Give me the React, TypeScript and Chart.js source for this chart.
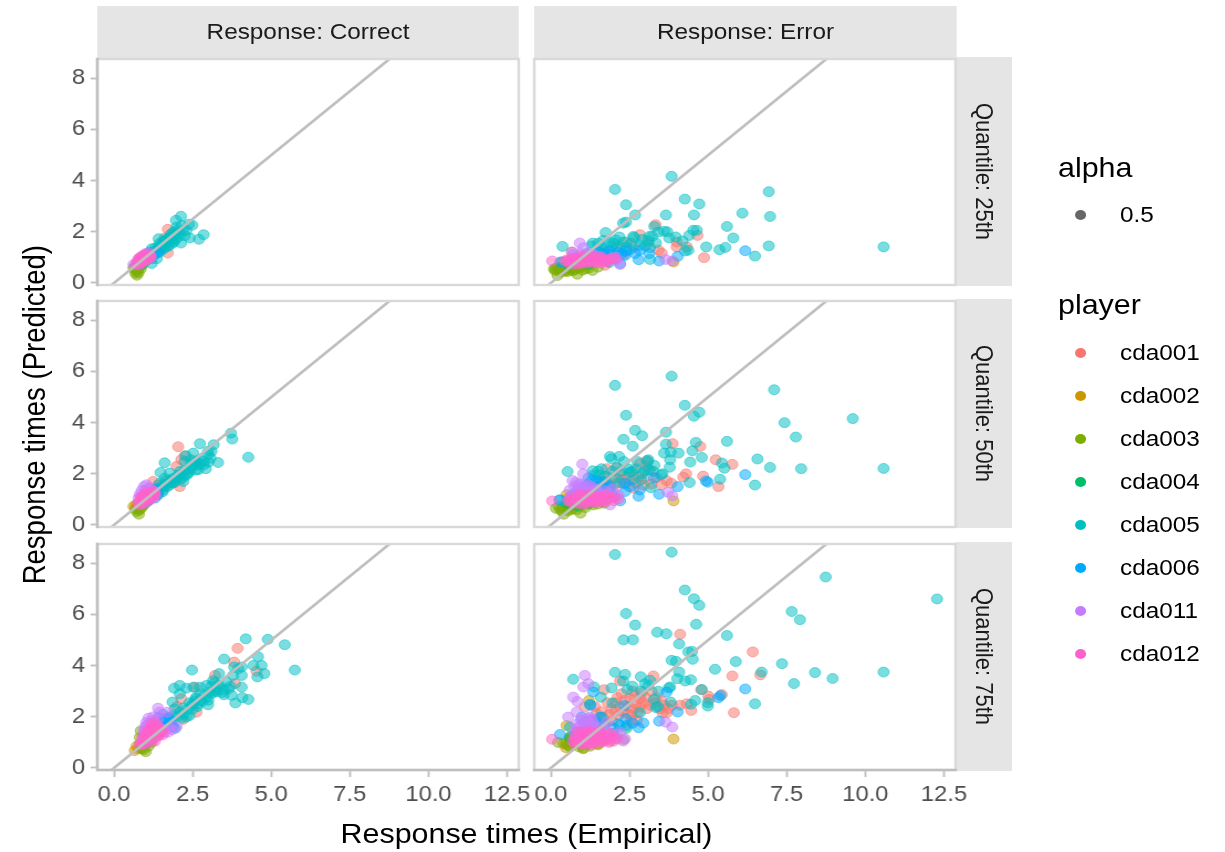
import React, { useEffect, useRef } from "react";
import { Chart, registerables } from "chart.js";

Chart.register(...registerables);

type P = [number, number];

const players = ["cda001", "cda002", "cda003", "cda004", "cda005", "cda006", "cda011", "cda012"];
const playerColors = ["#F8766D", "#CD9600", "#7CAE00", "#00BE67", "#00BFC4", "#00A9FF", "#C77CFF", "#FF61CC"];
const xTickValues = [0, 2.5, 5, 7.5, 10, 12.5];
const yTickValues = [0, 2, 4, 6, 8];
const diagonal: P[] = [[-1, -1], [14, 14]];
const responses = ["Response: Correct", "Response: Error"];
const quantiles = ["Quantile: 25th", "Quantile: 50th", "Quantile: 75th"];

// ---------- Quantile 25, Correct ----------
const c25p1: P[] = [[1.71,2.1],[1.71,1.17],[1.53,1.34],[1.3,1.2],[1.15,1.1],[1.0,.95],[1.45,1.4],[1.6,1.75],[1.85,1.95]];
const c25p2: P[] = [[.65,.62],[.75,.7],[.85,.75],[.7,.55]];
const c25p3: P[] = [[.73,.3],[.7,.47],[.81,.63],[.62,.59],[.78,.4],[.68,.38],[.85,.55],[.75,.5],[.9,.7]];
const c25p4: P[] = [[.8,.72],[.95,.8],[1.05,.9],[.9,.75]];
const c25p5: P[] = [[2.13,2.61],[1.97,2.45],[2.49,2.26],[2.38,2.3],[2.85,1.89],[2.7,1.71],[2.41,1.76],[2.13,1.56],[1.75,1.67],[1.42,1.73],[1.44,1.54],[1.99,2.19],[2.19,2.06],[1.91,1.86],[1.64,1.54],[1.2,1.34],[1.09,1.15],[1.36,.95],[1.2,.76],[2.05,1.8],[1.85,1.7],[1.55,1.45],[1.3,1.25],[1.25,1.1],[1.4,1.3],[1.7,1.6],[2.0,1.95],[2.25,1.85],[1.8,1.9],[1.5,1.3],[1.35,1.15],[1.15,1.05],[1.05,.9],[1.6,1.35],[1.75,1.45],[1.9,1.6],[2.3,2.05],[1.0,.95],[1.1,1.02],[1.2,1.2],[1.3,1.35],[1.45,1.45],[1.55,1.6],[1.65,1.7],[1.8,1.8],[1.9,2.0],[2.0,2.05],[2.1,1.95],[1.95,1.7],[1.85,1.55],[1.7,1.45],[1.45,1.2],[1.2,.95],[1.12,1.2],[2.15,2.25],[1.6,1.65],[1.75,1.75]];
const c25p6: P[] = [[1.0,.9],[1.15,1.0],[1.25,1.1],[1.1,.95],[1.4,1.2]];
const c25p11: P[] = [[.62,.72],[.7,.76],[.78,.9],[.9,1.05],[1.0,1.15],[1.1,1.18],[.85,.85],[1.16,1.08]];
const c25p12: P[] = [[.72,.72],[.78,.78],[.84,.85],[.9,.9],[.96,.95],[1.02,1.0],[1.08,1.05],[1.14,1.08],[1.17,1.02],[.88,.78],[.95,.85],[1.05,.9],[1.0,1.1],[.92,1.02],[1.12,.98],[.8,.7],[.85,.95],[.78,.95],[.85,1.02],[.95,1.08],[1.05,.95],[1.15,1.0],[.9,.82],[1.0,.92],[.75,.85]];

// ---------- Quantile 50, Correct ----------
const c50p1: P[] = [[2.04,3.06],[2.09,1.5],[2.14,2.55],[1.99,2.29],[1.24,1.7],[2.25,2.7],[1.4,1.55],[1.7,1.75],[1.9,1.65],[1.15,1.45]];
const c50p2: P[] = [[.62,.72],[.7,.8],[.78,.85],[.68,.65]];
const c50p3: P[] = [[.79,.42],[.72,.52],[.86,.65],[.7,.62],[.8,.58],[.9,.72],[.95,.8]];
const c50p4: P[] = [[.95,.95],[1.1,1.0],[1.2,1.15],[1.0,.85]];
const c50p5: P[] = [[4.27,2.65],[3.72,3.59],[3.76,3.36],[2.73,3.18],[3.17,3.14],[1.61,2.43],[1.48,2.05],[3.31,2.44],[2.92,2.2],[3.07,2.61],[2.52,2.81],[2.28,2.71],[2.25,2.48],[2.68,2.16],[2.99,2.88],[3.1,2.88],[2.62,2.48],[2.09,2.09],[2.41,2.09],[1.77,2.03],[1.61,1.83],[1.45,1.63],[1.77,1.57],[1.56,1.37],[1.4,1.18],[1.99,1.76],[2.2,1.9],[1.85,1.8],[2.2,1.7],[2.5,2.3],[2.85,2.5],[3.0,2.75],[2.35,2.0],[2.65,2.35],[2.05,1.95],[1.7,1.5],[1.5,1.5],[1.65,1.7],[1.9,1.65],[1.35,1.3],[1.3,1.4],[2.45,2.55],[2.75,2.4],[1.55,1.3],[1.25,1.15],[1.5,1.45],[1.65,1.6],[1.8,1.7],[1.95,1.85],[2.1,1.95],[2.25,2.15],[2.4,2.2],[2.55,2.45],[2.7,2.55],[1.6,1.5],[1.75,1.65],[1.9,1.7],[2.15,1.8],[2.3,1.95],[2.6,2.15],[2.85,2.35],[3.0,2.45],[1.4,1.3],[1.25,1.25],[1.45,1.4],[2.45,2.35]];
const c50p6: P[] = [[1.0,1.1],[1.2,1.3],[1.35,1.4],[1.1,.95],[1.4,1.2],[1.3,1.05]];
const c50p11: P[] = [[1.03,1.57],[.95,1.5],[.88,1.35],[.82,1.2],[1.1,1.45],[.98,1.35],[1.18,1.4],[1.25,1.3],[.78,1.05],[1.3,1.15],[.9,1.1],[1.05,1.2]];
const c50p12: P[] = [[.8,.8],[.85,.85],[.9,.95],[.95,1.0],[1.0,1.05],[1.05,1.1],[1.1,1.15],[1.15,1.2],[1.2,1.25],[1.3,1.2],[1.28,1.1],[1.1,.95],[1.0,.88],[.92,.82],[.88,1.05],[.98,1.2],[1.2,1.05],[.82,.95],[.9,1.05],[.95,1.1],[1.05,1.0],[1.15,1.1],[1.2,1.15],[1.1,1.05],[1.25,1.3],[.85,1.1],[1.0,1.2],[.78,.85],[1.3,1.3],[1.05,1.3]];

// ---------- Quantile 75, Correct ----------
const c75p1: P[] = [[3.93,4.68],[3.82,4.14],[4.53,3.78],[3.21,3.62],[2.14,2.71],[2.57,3.16],[2.62,2.18],[2.2,1.9],[1.7,2.0],[1.45,1.95],[3.85,3.3],[2.0,2.4]];
const c75p2: P[] = [[.66,.68],[.72,.85],[.82,.95],[.76,.75],[.88,.78]];
const c75p3: P[] = [[1.01,.64],[.87,.75],[.95,.72],[.9,.9],[1.1,.85],[1.2,1.0],[.82,1.2],[.85,1.45]];
const c75p4: P[] = [[1.0,.95],[1.3,1.3],[1.15,1.1],[1.5,1.5],[.95,1.25]];
const c75p5: P[] = [[4.19,5.05],[4.89,5.03],[5.43,4.82],[5.75,3.83],[2.48,3.83],[4.58,4.35],[3.5,4.26],[4.43,4.01],[4.69,4.01],[4.06,3.95],[4.78,3.69],[4.56,3.56],[4.06,3.62],[4.06,3.16],[4.27,2.68],[4.08,2.75],[3.86,2.54],[3.74,2.84],[3.49,2.86],[3.26,2.97],[3.34,3.69],[3.15,3.42],[2.94,3.23],[2.73,3.16],[2.52,3.16],[2.09,3.23],[1.91,3.12],[2.3,3.12],[2.09,2.9],[1.86,2.58],[2.99,2.47],[2.68,2.51],[2.46,2.44],[2.3,1.99],[2.09,2.18],[1.93,2.31],[2.62,2.71],[2.89,2.84],[3.05,2.97],[3.58,3.36],[3.79,3.62],[3.95,3.88],[3.82,3.95],[1.67,1.92],[1.45,1.65],[3.2,3.0],[3.65,3.1],[2.75,2.9],[2.4,2.55],[2.2,2.35],[2.5,2.3],[3.1,3.2],[3.3,3.2],[2.55,2.6],[1.75,1.8],[2.2,2.1],[2.35,2.3],[2.5,2.5],[2.65,2.4],[2.8,2.6],[2.95,2.75],[3.1,2.9],[3.25,3.1],[3.35,3.25],[2.0,2.0],[1.85,1.85],[1.7,1.7],[1.9,2.05],[2.6,2.75],[2.4,2.05],[2.15,1.95],[3.0,2.65],[3.5,3.05],[3.7,3.2],[3.45,2.95],[2.75,2.65],[3.2,3.35]];
const c75p6: P[] = [[1.72,1.95],[1.4,1.97],[1.88,1.6],[1.55,2.1],[1.5,1.7],[1.65,1.6],[1.3,1.55],[1.8,1.75],[1.45,1.5],[1.55,1.8],[1.65,1.85],[1.75,1.95],[1.4,1.65],[1.85,1.65],[1.35,1.4],[1.95,1.55]];
const c75p11: P[] = [[1.4,2.34],[1.69,2.18],[1.45,2.18],[1.99,1.63],[1.72,1.4],[1.03,1.79],[.98,1.6],[1.35,1.6],[1.0,1.45],[1.2,1.85],[.95,1.3],[1.55,1.5],[1.3,1.75],[1.15,1.5],[1.85,1.5],[1.1,1.95],[1.1,1.75],[1.2,1.6],[.95,1.45],[1.4,1.9],[1.6,1.4],[1.75,1.55],[1.45,1.35],[1.05,1.65],[1.25,2.0]];
const c75p12: P[] = [[.82,.9],[.88,1.0],[.92,1.1],[1.0,1.15],[1.05,1.22],[1.1,1.3],[1.2,1.42],[1.3,1.5],[1.38,1.65],[1.3,1.78],[1.22,1.62],[1.12,1.55],[1.05,1.4],[1.5,1.4],[1.42,1.25],[1.3,1.2],[1.2,1.05],[1.05,.98],[.95,.92],[1.4,1.45],[1.55,1.3],[.9,1.2],[1.0,1.3],[1.1,1.15],[1.2,1.25],[1.3,1.35],[1.4,1.3],[1.15,1.4],[1.25,1.5],[1.35,1.55],[.9,.95],[1.05,1.1],[1.45,1.55],[1.2,1.75],[1.1,1.45],[1.3,1.05],[1.55,1.45]];

// ---------- Quantile 25, Error ----------
const e25p1: P[] = [[3.33,2.28],[2.83,1.89],[4.87,.99],[4.66,1.86],[4.32,1.41],[4.0,1.41],[4.0,1.6],[3.42,1.28],[3.52,1.17],[.66,1.21],[2.62,1.41],[1.72,.69],[2.09,1.41],[1.67,1.28],[2.4,1.6],[3.1,1.55],[1.1,.95],[1.4,1.15],[2.3,1.1]];
const e25p2: P[] = [[3.9,.82],[.5,.65],[.7,.75],[1.05,.7],[1.4,.85],[.9,.58]];
const e25p3: P[] = [[.21,.29],[.84,.34],[1.32,.49],[.13,.49],[.34,.56],[.61,.56],[.95,.62],[.2,.6],[.45,.45],[.7,.48],[1.1,.55],[.3,.42],[.55,.65],[1.5,.62],[.15,.55],[.4,.58],[.8,.6],[.25,.5],[.35,.48],[.5,.5],[.65,.55],[.75,.52],[1.0,.5],[1.2,.58],[.1,.55],[.28,.6],[.55,.45]];
const e25p4: P[] = [[.35,.82],[.55,.7],[.8,.8],[1.2,.72],[1.55,.95],[1.85,.8]];
const e25p5: P[] = [[.37,1.43],[2.04,3.66],[3.84,4.17],[2.39,3.06],[2.68,2.66],[4.26,3.28],[4.72,3.09],[3.66,2.66],[4.55,2.66],[6.93,3.57],[6.97,2.6],[6.09,2.73],[5.6,2.21],[5.8,1.76],[4.94,1.41],[5.36,1.3],[5.55,1.39],[6.93,1.45],[6.49,1.05],[10.58,1.41],[2.3,2.34],[2.39,2.38],[1.74,1.97],[3.29,2.21],[3.42,1.99],[3.6,2.02],[3.13,1.82],[2.62,1.82],[2.18,1.8],[1.33,1.56],[1.67,1.67],[1.86,1.6],[2.41,1.41],[2.83,1.47],[3.15,1.38],[3.34,1.56],[3.76,1.76],[3.97,1.8],[4.19,1.64],[4.4,1.86],[4.53,2.06],[4.64,2.06],[4.27,1.25],[4.37,1.28],[3.15,.92],[1.88,1.28],[2.2,1.41],[3.7,2.0],[3.22,1.82],[2.65,1.78],[2.05,1.68],[1.3,1.45],[1.6,1.4],[2.5,1.3],[3.0,1.45],[1.45,1.3],[1.7,1.25],[2.0,1.55],[2.3,1.6],[2.55,1.55],[2.9,1.7],[3.1,1.65],[1.5,1.55],[1.95,1.45]];
const e25p6: P[] = [[6.18,1.26],[4.03,1.04],[3.44,.86],[2.79,.91],[2.68,1.15],[2.83,1.28],[3.13,1.15],[2.2,.76],[2.36,1.08],[1.14,1.15],[1.55,1.2],[1.9,1.1],[2.25,1.15],[1.4,1.0],[.3,.82],[1.7,.95],[2.05,.95],[.85,.95],[1.3,1.1],[1.65,1.15],[2.15,1.2],[2.4,1.25],[1.85,1.25]];
const e25p11: P[] = [[.92,1.56],[1.03,1.38],[.69,1.21],[3.65,.92],[3.86,.86],[2.2,.72],[.75,1.0],[.95,1.15],[1.25,1.2],[1.5,1.05],[1.8,.82],[2.1,.9],[1.0,.85],[1.35,.95],[.6,.88],[2.05,1.0],[.85,1.0],[1.1,1.08],[1.3,1.12],[.7,1.1],[1.55,.95],[.8,.85],[1.15,.9]];
const e25p12: P[] = [[.04,.86],[.45,.85],[.58,.78],[.7,.82],[.8,.9],[.9,.95],[1.0,.98],[1.1,.92],[1.2,.85],[1.3,.9],[1.4,.95],[1.5,.88],[1.6,.95],[1.72,.9],[1.85,.92],[2.05,.95],[.85,.75],[1.0,.78],[1.15,1.02],[1.3,1.05],[.65,.95],[1.45,.78],[1.65,.82],[.95,1.05],[.5,.9],[.6,.85],[.75,.95],[.85,.85],[1.05,.9],[1.25,.95],[1.35,.82],[1.55,.8],[1.8,.85],[1.95,.98],[1.15,.78],[.7,.72],[.95,.8],[1.4,1.0],[1.6,1.02]];

// ---------- Quantile 50, Error ----------
const e50p1: P[] = [[3.87,3.18],[4.75,3.07],[5.24,2.55],[5.77,2.37],[4.3,2.0],[4.21,1.87],[4.84,1.91],[5.33,1.5],[3.05,2.52],[2.83,2.4],[3.68,1.73],[3.52,1.57],[3.83,1.63],[2.41,1.89],[2.25,1.76],[2.62,1.44],[1.77,2.2],[2.09,1.63],[1.99,1.31],[1.67,1.7],[2.62,2.09],[2.2,2.0],[1.5,1.5],[2.95,1.8],[3.2,1.6],[1.2,1.2],[2.8,1.9],[1.3,1.5],[1.7,1.9],[1.95,1.85],[2.3,1.6],[2.5,1.75],[2.7,1.65],[2.95,1.55],[3.35,1.85],[3.05,2.3],[3.15,2.15],[2.1,2.25],[1.85,1.55]];
const e50p2: P[] = [[3.9,.94],[.5,1.18],[.55,1.05],[.9,.9],[1.3,.85],[1.7,.9],[.75,.78]];
const e50p3: P[] = [[.41,.42],[.94,.46],[.16,.65],[.39,.65],[.7,.65],[1.35,.78],[.25,.72],[.55,.55],[.82,.6],[1.1,.68],[.35,.55],[1.5,.82],[.6,.72],[.3,.6],[.5,.62],[.65,.6],[.9,.7],[1.15,.8],[1.7,.85],[.45,.72],[.55,.78]];
const e50p4: P[] = [[.5,.85],[.85,.75],[1.2,.85],[1.55,1.05],[2.0,1.1]];
const e50p5: P[] = [[3.84,5.82],[2.04,5.46],[7.1,5.29],[9.6,4.16],[4.26,4.68],[4.72,4.41],[4.55,4.25],[2.39,4.29],[7.43,4.0],[7.79,3.44],[2.68,3.7],[2.9,3.49],[3.66,3.63],[2.31,3.35],[2.6,3.08],[4.61,3.23],[5.6,3.27],[3.66,3.16],[3.6,2.81],[3.81,2.85],[4.06,2.81],[4.5,2.9],[3.79,2.55],[4.8,2.64],[4.43,2.46],[3.78,2.26],[6.57,2.58],[5.44,2.42],[5.52,2.22],[6.97,2.25],[7.96,2.2],[10.58,2.21],[5.38,1.79],[6.49,1.56],[4.41,1.66],[1.88,2.68],[2.17,2.68],[1.93,2.59],[2.32,2.48],[2.75,2.48],[3.08,2.48],[3.29,2.33],[2.09,2.25],[1.61,2.2],[1.33,2.12],[.53,2.09],[2.55,2.09],[2.99,2.12],[2.87,1.76],[3.5,1.96],[2.62,1.76],[3.18,1.46],[1.9,1.5],[.27,.98],[3.1,2.55],[2.9,2.0],[2.5,2.05],[1.5,2.1],[2.05,1.85],[1.45,1.75],[1.35,1.95],[1.55,1.95],[1.75,1.9],[1.95,2.1],[2.25,2.1],[2.45,2.2],[1.65,1.7],[2.7,2.2],[3.1,2.15],[3.25,2.1],[2.2,1.65],[3.55,2.0]];
const e50p6: P[] = [[6.18,1.97],[4.99,1.67],[4.03,1.5],[3.28,1.84],[2.83,1.37],[2.79,1.12],[3.44,1.2],[2.36,1.63],[2.36,1.31],[2.2,.94],[1.3,1.76],[1.14,1.57],[1.56,1.31],[.29,.98],[.82,1.3],[1.75,1.65],[1.45,1.5],[4.93,1.72],[1.0,1.15],[1.95,1.2],[2.5,1.5],[.9,1.45],[1.05,1.5],[1.3,1.45],[1.5,1.7],[1.2,1.85],[1.65,1.45],[1.85,1.45],[.7,1.2]];
const e50p11: P[] = [[1.0,2.38],[1.03,2.0],[.69,1.74],[.8,1.67],[.6,1.37],[3.86,1.14],[3.72,1.28],[1.88,.78],[2.15,1.17],[1.2,1.55],[.95,1.45],[1.4,1.4],[1.95,1.4],[.75,1.2],[1.1,1.3],[1.65,1.2],[.9,1.6],[1.5,1.15],[.85,1.1],[.75,1.5],[.85,1.4],[1.0,1.35],[1.15,1.45],[1.3,1.5],[1.0,1.6],[1.45,1.35],[1.7,1.35],[1.25,1.25],[.65,1.15],[2.05,1.1],[1.85,1.25]];
const e50p12: P[] = [[.04,.94],[.55,.95],[.65,.9],[.75,.85],[.85,.95],[.95,1.05],[1.05,1.1],[1.15,1.0],[1.25,.95],[1.35,1.05],[1.45,1.1],[1.55,1.0],[1.65,1.08],[1.8,1.0],[1.95,1.05],[2.15,1.02],[.85,1.15],[1.0,.82],[1.2,1.18],[1.4,.9],[.7,1.05],[1.6,.88],[1.1,.88],[1.75,1.15],[.6,1.0],[.8,1.05],[.9,.85],[1.0,1.0],[1.1,1.05],[1.25,1.1],[1.35,.9],[1.5,.95],[1.7,.98],[1.85,1.12],[2.0,.95],[.95,1.18],[1.3,1.18],[1.55,1.12],[1.15,.85]];

// ---------- Quantile 75, Error ----------
const e75p1: P[] = [[4.11,5.23],[6.42,4.54],[3.26,3.6],[5.77,3.6],[6.66,3.64],[5.82,2.16],[4.78,3.06],[5.01,2.81],[5.03,2.68],[5.43,2.87],[4.46,2.25],[4.11,2.45],[3.68,2.15],[3.52,2.62],[2.99,2.77],[2.67,2.81],[2.11,2.75],[1.69,3.06],[2.2,3.4],[2.83,2.38],[2.62,2.32],[2.04,2.19],[2.2,2.38],[2.57,2.06],[1.45,2.12],[1.08,2.38],[1.93,2.32],[1.67,1.99],[3.47,2.32],[2.83,2.71],[3.74,2.32],[4.32,2.51],[2.52,2.71],[3.05,2.32],[2.3,2.19],[2.73,1.86],[3.2,3.0],[3.85,2.45],[1.3,1.9],[.6,1.1],[2.45,2.4],[2.9,2.95],[3.3,2.55],[1.8,2.55],[1.4,2.4],[1.6,2.2],[1.85,2.1],[2.05,2.55],[2.35,2.65],[2.7,2.5],[2.95,2.55],[2.75,2.15],[2.45,2.1],[2.15,2.05],[1.95,1.85],[1.75,1.75],[2.55,1.85],[3.15,2.45],[3.55,2.15],[3.35,2.75],[3.6,2.45],[2.6,3.0],[2.25,2.9],[1.55,1.75],[1.2,1.6]];
const e75p2: P[] = [[3.9,1.13],[1.21,2.64],[.5,1.66],[.48,.79],[1.03,.78],[2.3,1.11],[.7,.95],[1.5,.9],[.65,1.25],[1.9,1.05],[.4,.95]];
const e75p3: P[] = [[.23,1.0],[.61,.82],[1.03,.75],[1.5,.95],[.61,1.15],[.55,.88],[.8,.95],[1.25,.85],[.48,.95],[.9,.82],[1.65,1.1]];
const e75p4: P[] = [[.6,1.2],[1.03,1.0],[1.55,1.4],[2.4,1.55],[.85,1.3],[1.3,1.2],[2.0,1.35]];
const e75p5: P[] = [[2.04,8.35],[3.84,8.44],[8.74,7.47],[12.28,6.61],[4.26,6.96],[4.55,6.62],[4.72,6.36],[2.39,6.04],[2.68,5.59],[4.62,5.62],[3.38,5.31],[3.67,5.25],[5.6,5.18],[2.31,5.01],[2.61,5.01],[4.08,4.85],[7.66,6.12],[7.92,5.8],[4.37,4.54],[4.49,4.56],[4.51,4.25],[3.84,4.21],[3.98,4.17],[5.88,4.16],[5.22,3.86],[7.35,4.08],[8.4,3.73],[8.96,3.5],[10.58,3.75],[6.7,3.75],[7.73,3.3],[6.49,2.51],[4.08,3.75],[4.02,3.49],[4.27,3.4],[4.45,3.45],[2.04,3.74],[2.36,3.66],[2.86,3.57],[3.15,3.43],[.71,3.47],[2.3,3.4],[2.59,3.2],[3.79,3.17],[3.1,3.23],[1.93,3.13],[2.43,3.07],[2.86,3.01],[3.42,3.0],[4.8,3.07],[1.59,2.77],[1.96,2.54],[3.28,2.68],[3.81,2.58],[4.59,2.64],[4.46,2.49],[4.99,2.55],[3.34,2.36],[2.83,2.16],[1.24,2.49],[1.37,3.17],[.61,1.6],[1.61,1.99],[2.2,1.66],[3.4,2.4],[3.0,3.3],[3.75,3.13],[4.99,2.42]];
const e75p6: P[] = [[6.18,3.09],[5.39,2.83],[5.33,2.75],[3.68,2.97],[4.03,2.19],[3.44,1.83],[2.94,1.76],[2.79,1.57],[2.33,2.44],[2.38,1.93],[1.35,2.97],[1.26,2.45],[1.56,1.99],[.29,1.31],[.98,1.99],[2.14,1.73],[2.41,1.66],[1.19,1.66],[.82,1.4],[1.45,1.8],[1.05,1.75],[1.3,1.85],[1.7,1.7],[2.0,1.55],[1.1,1.55],[2.6,1.75]];
const e75p11: P[] = [[1.08,3.62],[1.19,3.3],[1.03,3.17],[.71,2.77],[.84,2.6],[.82,2.19],[.55,1.99],[3.86,1.6],[3.65,1.79],[2.36,1.14],[2.2,1.4],[1.77,1.79],[1.56,1.4],[1.13,1.79],[1.24,1.99],[.8,1.7],[1.0,1.5],[1.3,1.55],[.75,1.4],[1.45,1.6],[.95,1.9],[1.6,1.2],[2.05,1.15],[1.15,1.3],[.85,1.2],[.9,1.6],[1.05,1.75],[1.2,1.7],[1.35,1.75],[.95,1.45],[1.1,1.55],[1.25,1.45],[1.0,1.85],[.85,1.55],[1.4,1.4],[1.15,1.95],[1.3,1.9],[1.7,1.5],[1.9,1.35],[2.1,1.3],[2.3,1.05]];
const e75p12: P[] = [[.04,1.12],[.7,1.05],[.78,1.2],[.85,1.0],[.92,1.3],[1.0,1.1],[1.08,1.2],[1.15,1.35],[1.22,1.05],[1.3,1.15],[1.38,1.3],[1.46,1.12],[1.55,1.25],[1.65,1.1],[1.75,1.3],[1.85,1.15],[1.95,1.22],[2.1,1.15],[.75,.95],[.95,1.02],[1.15,1.0],[1.4,1.0],[1.6,1.38],[.85,1.42],[1.0,1.4],[1.9,1.35],[1.7,1.05],[1.2,1.45],[1.35,.95],[1.1,1.0],[.9,1.15],[1.05,1.3],[1.25,1.25],[1.45,1.25],[1.6,1.0],[1.85,1.0],[2.0,1.05],[.8,1.1],[1.3,1.4],[1.5,1.42],[1.7,1.2],[.95,.95],[1.12,.9],[1.25,.92]];

const panels: P[][][] = [
  [c25p1, c25p2, c25p3, c25p4, c25p5, c25p6, c25p11, c25p12],
  [e25p1, e25p2, e25p3, e25p4, e25p5, e25p6, e25p11, e25p12],
  [c50p1, c50p2, c50p3, c50p4, c50p5, c50p6, c50p11, c50p12],
  [e50p1, e50p2, e50p3, e50p4, e50p5, e50p6, e50p11, e50p12],
  [c75p1, c75p2, c75p3, c75p4, c75p5, c75p6, c75p11, c75p12],
  [e75p1, e75p2, e75p3, e75p4, e75p5, e75p6, e75p11, e75p12],
];

// Layout: the reference is stretched horizontally, so everything is laid out in
// unstretched units and the whole page gets a scaleX.
const S = 1.106;
const FONT = "'Liberation Sans', Arial, sans-serif";
const colLeft = [97, 534.5];
const rowTop = [59, 301, 544];
const panelW = 421;
const panelH = 226;
const mL = 40, mR = 34, mT = 14, mB = 36;
const sx = (x: number) => x / S;

function rgba(hex: string, a: number) {
  const n = parseInt(hex.slice(1), 16);
  return `rgba(${n >> 16},${(n >> 8) & 255},${n & 255},${a})`;
}

const framePlugin = (col: number, row: number) => ({
  id: "frame",
  afterDraw(chart: any) {
    const { left, right, top, bottom } = chart.chartArea;
    const ctx = chart.ctx;
    ctx.save();
    ctx.strokeStyle = "#d9d9d9";
    ctx.lineWidth = 2.4;
    ctx.strokeRect(left, top, right - left, bottom - top);
    ctx.strokeStyle = "#bebebe";
    ctx.beginPath();
    if (col === 0) { ctx.moveTo(left, top - 1.2); ctx.lineTo(left, bottom + 1.2); }
    if (row === 2) { ctx.moveTo(left - 1.2, bottom); ctx.lineTo(right + 1.2, bottom); }
    ctx.stroke();
    ctx.restore();
  },
});

function Panel({ row, col }: { row: number; col: number }) {
  const ref = useRef<HTMLCanvasElement | null>(null);
  useEffect(() => {
    const data = panels[row * 2 + col];
    const chart = new Chart(ref.current as HTMLCanvasElement, {
      type: "scatter",
      data: {
        datasets: [
          { type: "line", data: diagonal.map(([x, y]) => ({ x, y })), borderColor: "#bebebe", borderWidth: 2.6, pointRadius: 0, order: -1 } as any,
          ...data.map((pts, i) => ({
            label: players[i],
            data: pts.map(([x, y]) => ({ x, y })),
            backgroundColor: rgba(playerColors[i], 0.52),
            borderColor: rgba(playerColors[i], 0.52),
            borderWidth: 1,
            pointRadius: 5,
            order: players.length - i,
          })),
        ],
      },
      options: {
        animation: false,
        responsive: false,
        maintainAspectRatio: false,
        events: [],
        layout: {
          autoPadding: false,
          padding: { top: mT, right: mR, left: col === 0 ? 0 : mL, bottom: row === 2 ? 0 : mB },
        },
        plugins: { legend: { display: false }, tooltip: { enabled: false } },
        scales: {
          x: {
            type: "linear",
            display: row === 2,
            min: -0.53,
            max: 12.87,
            afterBuildTicks(s: any) { s.ticks = xTickValues.map((value) => ({ value })); },
            afterFit(s: any) { s.height = row === 2 ? mB : 0; s.paddingLeft = 0; s.paddingRight = 0; },
            border: { display: false },
            grid: { drawOnChartArea: false, drawTicks: true, tickLength: 7, tickColor: "#bebebe", tickWidth: 1.8 },
            ticks: { autoSkip: false, maxRotation: 0, padding: 5, color: "#4d4d4d", font: { family: FONT, size: 21.5 }, callback: (v: any) => Number(v).toFixed(1) },
          },
          y: {
            type: "linear",
            display: col === 0,
            min: -0.08,
            max: 8.76,
            afterBuildTicks(s: any) { s.ticks = yTickValues.map((value) => ({ value })); },
            afterFit(s: any) { s.width = col === 0 ? mL : 0; s.paddingTop = 0; s.paddingBottom = 0; },
            border: { display: false },
            grid: { drawOnChartArea: false, drawTicks: true, tickLength: 6, tickColor: "#bebebe", tickWidth: 1.8 },
            ticks: { autoSkip: false, padding: 5, color: "#4d4d4d", font: { family: FONT, size: 21.5 }, callback: (v: any) => String(v) },
          },
        },
      } as any,
      plugins: [framePlugin(col, row)] as any,
    });
    return () => chart.destroy();
  }, [row, col]);
  return (
    <canvas
      ref={ref}
      width={Math.round(sx(panelW) + mL + mR)}
      height={panelH + mT + mB}
      style={{ position: "absolute", left: sx(colLeft[col]) - mL, top: rowTop[row] - mT, display: "block" }}
    />
  );
}

const box = (x1: number, y1: number, x2: number, y2: number): React.CSSProperties => ({
  position: "absolute",
  left: sx(x1),
  top: y1,
  width: sx(x2 - x1),
  height: y2 - y1,
  display: "flex",
  alignItems: "center",
  justifyContent: "center",
  whiteSpace: "nowrap",
});

const keyRows = [353, 396, 439, 482, 525, 568, 611, 654];

function Key({ y, color, text }: { y: number; color: string; text: string }) {
  return (
    <>
      <div style={{ position: "absolute", left: sx(1081) - 5, top: y - 5, width: 10, height: 10, borderRadius: "50%", background: color }} />
      <div style={{ position: "absolute", left: sx(1120), top: y - 14, height: 28, lineHeight: "28px", fontSize: 22, color: "#000" }}>{text}</div>
    </>
  );
}

export default function App() {
  return (
    <div style={{ position: "absolute", left: 0, top: 0, width: 1225 / S, height: 852, transform: `scaleX(${S})`, transformOrigin: "0 0", fontFamily: FONT, overflow: "visible" }}>
      {responses.map((r, i) => (
        <div key={r} style={{ ...box(colLeft[i], 6, colLeft[i] + 422, 58), background: "#e5e5e5", fontSize: 22, color: "#1a1a1a" }}>{r}</div>
      ))}
      {quantiles.map((q, i) => (
        <div key={q} style={{ ...box(956, rowTop[i] - 2, 1012, rowTop[i] + 227), background: "#e5e5e5", fontSize: 22, color: "#1a1a1a" }}>
          <span style={{ writingMode: "vertical-rl" }}>{q}</span>
        </div>
      ))}
      {rowTop.map((_, r) => colLeft.map((_, c) => <Panel key={`${r}-${c}`} row={r} col={c} />))}
      <div style={{ ...box(97, 815, 956, 852), fontSize: 27.5, color: "#000" }}>Response times (Empirical)</div>
      <div style={{ ...box(14, 59, 56, 770), fontSize: 27.5, color: "#000" }}>
        <span style={{ writingMode: "vertical-rl", transform: "rotate(180deg)" }}>Response times (Predicted)</span>
      </div>
      <div style={{ position: "absolute", left: sx(1058), top: 151, lineHeight: "34px", fontSize: 27.5, color: "#000" }}>alpha</div>
      <Key y={215} color="#666666" text="0.5" />
      <div style={{ position: "absolute", left: sx(1058), top: 288, lineHeight: "34px", fontSize: 27.5, color: "#000" }}>player</div>
      {players.map((p, i) => <Key key={p} y={keyRows[i]} color={playerColors[i]} text={p} />)}
    </div>
  );
}
